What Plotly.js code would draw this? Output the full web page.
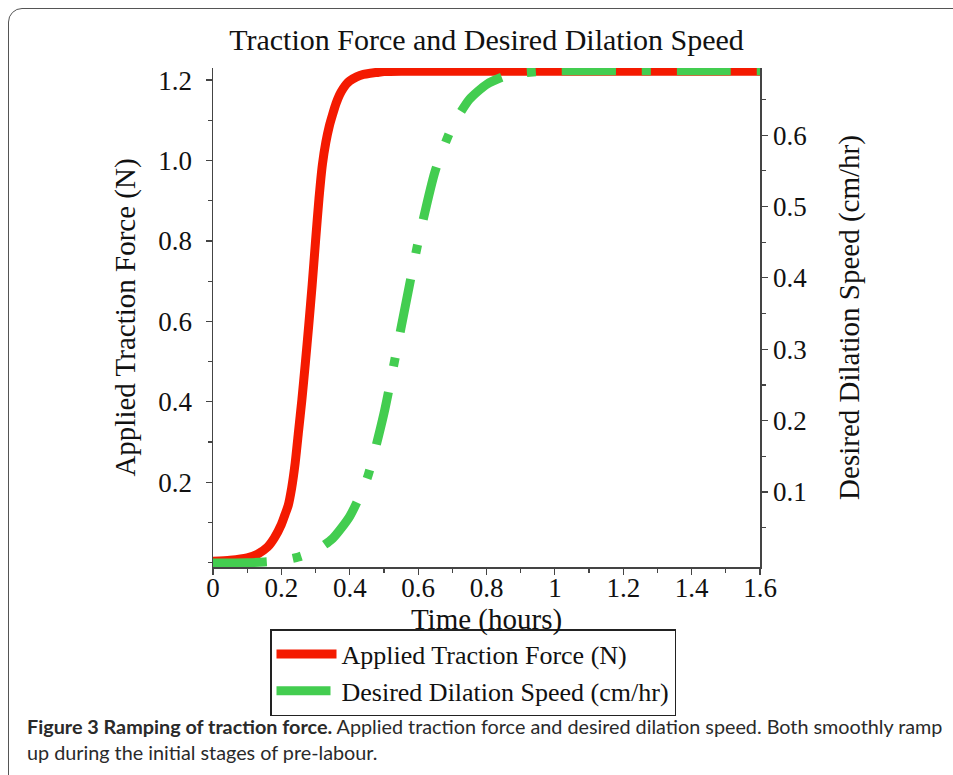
<!DOCTYPE html>
<html><head><meta charset="utf-8">
<script src="https://cdn.plot.ly/plotly-3.0.1.min.js"></script>
<style>
html,body{margin:0;padding:0;background:#fff;overflow:hidden;width:953px;height:775px;}
#frame{position:absolute;left:8px;top:8px;width:1000px;height:820px;border:1.5px solid #555;border-top-left-radius:14px;box-sizing:border-box;}
#chart{position:absolute;left:0;top:0;width:953px;height:775px;}
</style></head><body>
<div id="frame"></div>
<div id="chart"></div>
<script>
// ---- data ----
const forceTime = [0, 0.05, 0.1, 0.13, 0.16, 0.18, 0.2, 0.21, 0.22, 0.23, 0.24, 0.25, 0.26, 0.27, 0.28, 0.29, 0.30, 0.31, 0.32, 0.33, 0.34, 0.35, 0.36, 0.37, 0.38, 0.39, 0.40, 0.42, 0.44, 0.46, 0.48, 0.5, 0.55, 0.6, 0.8, 1.0, 1.2, 1.4, 1.6];
const tractionForce = [0.003, 0.006, 0.012, 0.021, 0.039, 0.062, 0.095, 0.118, 0.142, 0.185, 0.245, 0.325, 0.405, 0.495, 0.59, 0.69, 0.80, 0.905, 0.99, 1.045, 1.085, 1.115, 1.142, 1.163, 1.178, 1.19, 1.198, 1.208, 1.214, 1.217, 1.219, 1.221, 1.222, 1.222, 1.222, 1.222, 1.222, 1.222, 1.222];
const speedTime = [0, 0.1, 0.15, 0.2, 0.25, 0.3, 0.35, 0.4, 0.45, 0.5, 0.55, 0.6, 0.65, 0.7, 0.75, 0.8, 0.85, 0.9, 1.0, 1.2, 1.4, 1.6];
const dilationSpeed = [0.0005, 0.001, 0.002, 0.004, 0.009, 0.018, 0.035, 0.066, 0.118, 0.21, 0.33, 0.45, 0.55, 0.612, 0.65, 0.671, 0.682, 0.687, 0.690, 0.690, 0.690, 0.690];

const forceName = 'Applied Traction Force (N)';
const speedName = 'Desired Dilation Speed (cm/hr)';
const chartTitle = 'Traction Force and Desired Dilation Speed';
const xTitle = 'Time (hours)';

const xTickVals = [0, 0.2, 0.4, 0.6, 0.8, 1.0, 1.2, 1.4, 1.6];
const xTickText = ['0', '0.2', '0.4', '0.6', '0.8', '1', '1.2', '1.4', '1.6'];
const xMinorVals = [0.1, 0.3, 0.5, 0.7, 0.9, 1.1, 1.3, 1.5];
const yTickVals = [0.2, 0.4, 0.6, 0.8, 1.0, 1.2];
const yTickText = ['0.2', '0.4', '0.6', '0.8', '1.0', '1.2'];
const yMinorVals = [0, 0.1, 0.3, 0.5, 0.7, 0.9, 1.1];
const y2TickVals = [0.1, 0.2, 0.3, 0.4, 0.5, 0.6];
const y2TickText = ['0.1', '0.2', '0.3', '0.4', '0.5', '0.6'];
const y2MinorVals = [0.05, 0.15, 0.25, 0.35, 0.45, 0.55, 0.65];

const captionBold = 'Figure 3 Ramping of traction force.';
const captionLine1 = ' Applied traction force and desired dilation speed. Both smoothly ramp';
const captionLine2 = 'up during the initial stages of pre-labour.';

// ---- chart ----
const serif = 'Liberation Serif, Times New Roman, serif';
const axisCol = '#444';

const traces = [
  {x: forceTime, y: tractionForce, name: forceName, type: 'scatter', mode: 'lines',
   line: {color: '#f41a00', width: 9, shape: 'spline', smoothing: 0.6}, yaxis: 'y', hoverinfo: 'skip'},
  {x: speedTime, y: dilationSpeed, name: speedName, type: 'scatter', mode: 'lines',
   line: {color: '#43cd50', width: 9, dash: '54px,26px,9px,26px', shape: 'spline', smoothing: 0.6}, yaxis: 'y2', hoverinfo: 'skip'}
];

function axisBase() {
  return {showline: true, linecolor: axisCol, linewidth: 1.5, ticks: 'outside', ticklen: 6,
    tickcolor: axisCol, tickwidth: 1.2, showgrid: false, zeroline: false, fixedrange: true,
    automargin: false, tickfont: {family: serif, size: 27, color: '#111'}};
}

const xaxis = Object.assign(axisBase(), {
  range: [0, 1.6], tickmode: 'array', tickvals: xTickVals, ticktext: xTickText, ticklabelstandoff: -10,
  minor: {tickmode: 'array', tickvals: xMinorVals, ticks: 'outside', ticklen: 4, tickcolor: axisCol},
  title: {text: xTitle, font: {family: serif, size: 29, color: '#111'}, standoff: 0}
});
const yaxis = Object.assign(axisBase(), {
  range: [-0.011, 1.23], tickmode: 'array', tickvals: yTickVals, ticktext: yTickText, ticklabelstandoff: 8,
  minor: {tickmode: 'array', tickvals: yMinorVals, ticks: 'outside', ticklen: 4, tickcolor: axisCol},
  title: {text: forceName, font: {family: serif, size: 29, color: '#111'}, standoff: 14}
});
const yaxis2 = Object.assign(axisBase(), {
  overlaying: 'y', side: 'right', anchor: 'x',
  range: [-0.005, 0.694], tickmode: 'array', tickvals: y2TickVals, ticktext: y2TickText,
  minor: {tickmode: 'array', tickvals: y2MinorVals, ticks: 'outside', ticklen: 4, tickcolor: axisCol},
  title: {text: speedName, font: {family: serif, size: 29, color: '#111'}, standoff: 32}
});

const W = 953, H = 775, L = 213, R = 193, T = 68, B = 208;
const pw = W - L - R, ph = H - T - B;
const px = v => (v - L) / pw;
const py = v => (H - B - v) / ph;

const layout = {
  width: W, height: H,
  margin: {l: L, r: R, t: T, b: B, pad: 0},
  paper_bgcolor: 'rgba(0,0,0,0)', plot_bgcolor: 'rgba(0,0,0,0)',
  font: {family: serif, color: '#111'},
  title: {text: chartTitle, font: {family: serif, size: 30, color: '#111'},
          x: 0.5, xref: 'paper', xanchor: 'center', y: 1 - 39 / H, yref: 'container', yanchor: 'middle'},
  showlegend: true,
  legend: {x: px(270), xanchor: 'left', y: py(629), yanchor: 'top', bordercolor: '#222', borderwidth: 1.5,
           bgcolor: '#fff', font: {family: serif, size: 26, color: '#111'}, itemwidth: 60, tracegroupgap: 0},
  xaxis: xaxis, yaxis: yaxis, yaxis2: yaxis2,
  annotations: [
    {xref: 'paper', yref: 'paper', x: px(25), y: py(726), xanchor: 'left', yanchor: 'middle', showarrow: false,
     align: 'left', text: '<b>' + captionBold + '</b>' + captionLine1,
     font: {family: 'Lato, Open Sans, sans-serif', size: 19.8, color: '#2a2a2a'}},
    {xref: 'paper', yref: 'paper', x: px(25), y: py(752), xanchor: 'left', yanchor: 'middle', showarrow: false,
     align: 'left', text: captionLine2,
     font: {family: 'Lato, Open Sans, sans-serif', size: 19.8, color: '#2a2a2a'}}
  ]
};

Plotly.newPlot('chart', traces, layout, {staticPlot: true, displayModeBar: false});
</script>
</body></html>
